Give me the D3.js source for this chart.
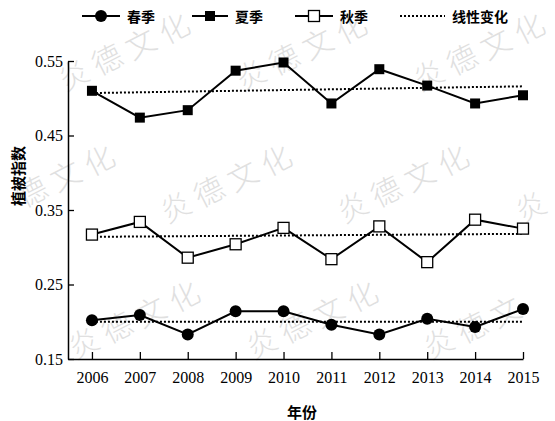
<!DOCTYPE html>
<html>
<head>
<meta charset="utf-8">
<script src="https://cdn.jsdelivr.net/npm/d3@7"></script>
<style>
  html, body { margin: 0; padding: 0; background: #fff; }
  #chart { width: 555px; height: 421px; }
</style>
</head>
<body>
<div id="chart"></div>
<script>
const years = [2006, 2007, 2008, 2009, 2010, 2011, 2012, 2013, 2014, 2015];
const spring = [0.202, 0.209, 0.183, 0.214, 0.214, 0.196, 0.183, 0.204, 0.193, 0.217];
const summer = [0.510, 0.474, 0.484, 0.537, 0.548, 0.493, 0.539, 0.517, 0.493, 0.504];
const autumn = [0.317, 0.334, 0.286, 0.304, 0.326, 0.284, 0.328, 0.280, 0.337, 0.325];
// linear trend end points (2006, 2015)
const trendYears = [2006, 2015];
const springTrend = [0.200, 0.200];
const summerTrend = [0.507, 0.516];
const autumnTrend = [0.314, 0.318];
const yTicks = [0.15, 0.25, 0.35, 0.45, 0.55];
const legendLabels = ['春季', '夏季', '秋季', '线性变化'];
const watermarkText = '炎德文化';

const W = 555, H = 421;
const serif = '"Liberation Serif", "Times New Roman", serif';
const cjk = '"Noto Sans CJK SC", sans-serif';

const svg = d3.select('#chart').append('svg')
    .attr('width', W).attr('height', H)
    .attr('viewBox', `0 0 ${W} ${H}`);

// Watermark, one glyph at a time so the ones off the page can be dropped
const wmSpots = [
    [-55, 50], [123, 50], [300, 50], [478, 50],
    [48, 182], [225, 182], [402, 182], [580, 182],
    [-44, 318], [133, 318], [311, 318], [488, 318]
];
const ang = -25 * Math.PI / 180, step = 37;
const wmChars = [];
wmSpots.forEach(([cx, cy]) => {
    Array.from(watermarkText).forEach((ch, i) => {
        const px = cx + (i - 1.5) * step * Math.cos(ang);
        const py = cy + (i - 1.5) * step * Math.sin(ang);
        if (px > 18 && px < W - 18 && py > 20 && py < H - 18) wmChars.push({ ch, px, py });
    });
});
svg.append('g').selectAll('text').data(wmChars).join('text')
    .attr('transform', d => `translate(${d.px},${d.py}) rotate(-27)`)
    .attr('text-anchor', 'middle').attr('dominant-baseline', 'central')
    .attr('font-family', cjk).attr('font-weight', 300)
    .attr('font-size', 30)
    .attr('fill', '#e0e0e0').text(d => d.ch);

// Scales
const x = d3.scaleLinear().domain([2005.5, 2015]).range([68, 523]);
const y = d3.scaleLinear().domain([0.15, 0.55]).range([359, 61]);

// X axis
svg.append('g').attr('transform', `translate(0,${y(0.15)})`)
    .call(d3.axisBottom(x).tickValues(years).tickFormat(d3.format('d'))
        .tickSizeInner(-7).tickSizeOuter(0).tickPadding(13))
    .call(ax => ax.select('.domain').attr('stroke', '#000').attr('stroke-width', 1.5))
    .call(ax => ax.selectAll('line').attr('stroke', '#000').attr('stroke-width', 1.3))
    .call(ax => ax.selectAll('text').attr('fill', '#000').attr('font-size', 16).attr('font-family', serif));

// Y axis
svg.append('g').attr('transform', `translate(${x(2005.5)},0)`)
    .call(d3.axisLeft(y).tickValues(yTicks).tickFormat(d3.format('.2f'))
        .tickSizeInner(-6).tickSizeOuter(0).tickPadding(5))
    .call(ax => ax.select('.domain').attr('stroke', '#000').attr('stroke-width', 1.5))
    .call(ax => ax.selectAll('line').attr('stroke', '#000').attr('stroke-width', 1.3))
    .call(ax => ax.selectAll('text').attr('fill', '#000').attr('font-size', 16).attr('font-family', serif));

// Axis titles
svg.append('text').attr('transform', `translate(24,176) rotate(-90)`)
    .attr('text-anchor', 'middle').attr('font-family', cjk).attr('font-weight', 700)
    .attr('font-size', 15).attr('fill', '#000').text('植被指数');
svg.append('text').attr('x', 302).attr('y', 418)
    .attr('text-anchor', 'middle').attr('font-family', cjk).attr('font-weight', 700)
    .attr('font-size', 15).attr('fill', '#000').text('年份');

// Trend lines
const trendLine = d3.line().x((d, i) => x(trendYears[i])).y(d => y(d));
[springTrend, summerTrend, autumnTrend].forEach(t => {
    svg.append('path').datum(t).attr('d', trendLine)
        .attr('fill', 'none').attr('stroke', '#000')
        .attr('stroke-width', 2).attr('stroke-dasharray', '2,2');
});

// Series lines
const line = d3.line().x((d, i) => x(years[i])).y(d => y(d));
[spring, summer, autumn].forEach(s => {
    svg.append('path').datum(s).attr('d', line)
        .attr('fill', 'none').attr('stroke', '#000').attr('stroke-width', 2);
});

// Markers
svg.append('g').selectAll('circle').data(spring).join('circle')
    .attr('cx', (d, i) => x(years[i])).attr('cy', d => y(d))
    .attr('r', 6).attr('fill', '#000');
const fs = 10;
svg.append('g').selectAll('rect').data(summer).join('rect')
    .attr('x', (d, i) => x(years[i]) - fs / 2).attr('y', d => y(d) - fs / 2)
    .attr('width', fs).attr('height', fs).attr('fill', '#000');
const os = 11;
svg.append('g').selectAll('rect').data(autumn).join('rect')
    .attr('x', (d, i) => x(years[i]) - os / 2).attr('y', d => y(d) - os / 2)
    .attr('width', os).attr('height', os)
    .attr('fill', '#fff').attr('stroke', '#000').attr('stroke-width', 1.3);

// Legend
const ly = 16;
const lg = svg.append('g');
const legendX = [82, 192, 295, 400];
const legendLen = [38, 36, 38, 45];
legendX.forEach((lx, i) => {
    lg.append('line').attr('x1', lx).attr('x2', lx + legendLen[i]).attr('y1', ly).attr('y2', ly)
        .attr('stroke', '#000').attr('stroke-width', 2)
        .attr('stroke-dasharray', i === 3 ? '2,2' : null);
    const cx = lx + legendLen[i] / 2;
    if (i === 0) lg.append('circle').attr('cx', cx).attr('cy', ly).attr('r', 6).attr('fill', '#000');
    if (i === 1) lg.append('rect').attr('x', cx - fs / 2).attr('y', ly - fs / 2)
        .attr('width', fs).attr('height', fs).attr('fill', '#000');
    if (i === 2) lg.append('rect').attr('x', cx - os / 2).attr('y', ly - os / 2)
        .attr('width', os).attr('height', os).attr('fill', '#fff')
        .attr('stroke', '#000').attr('stroke-width', 1.3);
    lg.append('text').attr('x', lx + legendLen[i] + 7).attr('y', ly)
        .attr('dominant-baseline', 'central')
        .attr('font-family', cjk).attr('font-weight', 700).attr('font-size', 14)
        .attr('fill', '#000').text(legendLabels[i]);
});
</script>
</body>
</html>
